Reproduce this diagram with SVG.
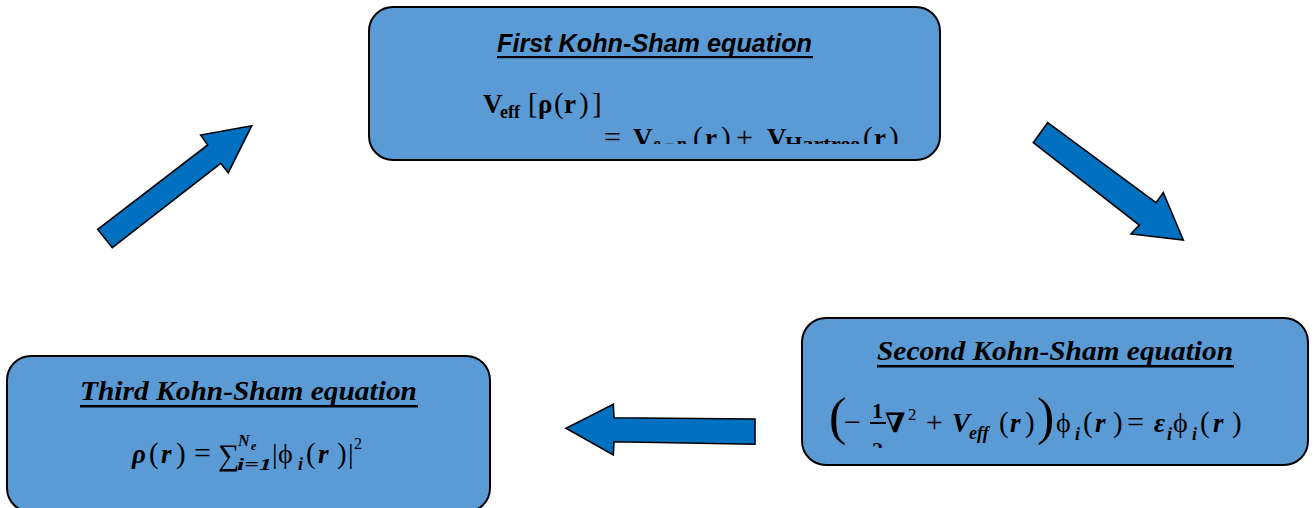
<svg xmlns="http://www.w3.org/2000/svg" width="1314" height="508" viewBox="0 0 1314 508">
<style>
.box{fill:#5B9BD5;stroke:#000;stroke-width:2}
.arrow{fill:#0070C0;stroke:#000;stroke-width:1.6;stroke-linejoin:miter}
.t1{font-family:"Liberation Sans",Arial,sans-serif;font-weight:bold;font-style:italic;font-size:25px;fill:#000}
.t2{font-family:"Liberation Serif","Times New Roman",serif;font-weight:bold;font-style:italic;font-size:27px;fill:#000}
.m{font-family:"Liberation Serif","DejaVu Serif",serif;fill:#000}
.b{font-weight:bold}
.bi{font-weight:bold;font-style:italic}
</style>
<defs>
<clipPath id="c1"><rect x="370" y="8" width="569" height="136"/></clipPath>
<clipPath id="c2"><rect x="803" y="319" width="504" height="129"/></clipPath>
</defs>
<rect width="1314" height="508" fill="#fff"/>
<g id="connectors">
<polygon class="arrow" points="97.7,229.3 207.7,145 200.7,135 251.7,125.7 228.3,172.7 220.7,163.3 112.3,247.7"/>
<polygon class="arrow" points="1047.7,122.7 1156,202.7 1163.3,192.7 1183.3,240 1131,234 1139.3,225 1033.3,142.7"/>
<polygon class="arrow" points="755,419 614,417.7 613.3,404.3 566,428.3 613.3,455 614,441.7 755,444.3"/>
</g>
<g id="node-first">
<rect class="box" x="369" y="7" width="571" height="153" rx="24"/>
<text class="t1" x="497" y="52" textLength="315" lengthAdjust="spacingAndGlyphs">First Kohn-Sham equation</text>
<rect x="497" y="56" width="316" height="2.2" fill="#000"/>
<g clip-path="url(#c1)" font-size="27">
<text class="m b" x="483" y="113">V</text>
<text class="m b" x="500" y="118" font-size="18">eff</text>
<text class="m" x="528" y="113" font-size="29">[</text>
<text class="m b" x="538" y="113">ρ</text>
<text class="m" x="554" y="113" font-size="29">(</text>
<text class="m b" x="564" y="113">r</text>
<text class="m" x="579" y="113" font-size="29">)</text>
<text class="m" x="592" y="113" font-size="29">]</text>
<text class="m" x="604" y="147" font-size="30">=</text>
<text class="m b" x="633" y="147">V</text>
<text class="m b" x="653" y="150" font-size="18">e</text>
<text class="m b" x="664" y="150" font-size="18">−</text>
<text class="m b" x="677" y="150" font-size="18">n</text>
<text class="m" x="693" y="147" font-size="29">(</text>
<text class="m b" x="705" y="147">r</text>
<text class="m" x="721" y="147" font-size="29">)</text>
<text class="m" x="736" y="147" font-size="30">+</text>
<text class="m b" x="767" y="147">V</text>
<text class="m b" x="785" y="150" font-size="18" textLength="75" lengthAdjust="spacingAndGlyphs">Hartree</text>
<text class="m" x="863" y="147" font-size="29">(</text>
<text class="m b" x="874" y="147">r</text>
<text class="m" x="889" y="147" font-size="29">)</text>
</g>
</g>
<g id="node-second">
<rect class="box" x="802" y="318" width="506" height="147" rx="24"/>
<text class="t2" x="877" y="360" textLength="356" lengthAdjust="spacingAndGlyphs">Second Kohn-Sham equation</text>
<rect x="877" y="365" width="357" height="2.5" fill="#000"/>
<g clip-path="url(#c2)" font-size="27">
<text class="m" x="829" y="434" font-size="52">(</text>
<text class="m" x="844" y="432" font-size="30">−</text>
<text class="m b" x="872" y="418" font-size="22">1</text>
<rect x="870" y="422" width="16" height="2" fill="#000"/>
<text class="m b" x="872" y="457" font-size="22">2</text>
<text class="m b" x="885" y="432">∇</text>
<text class="m" x="908" y="420" font-size="17">2</text>
<text class="m" x="926" y="432" font-size="30">+</text>
<text class="m bi" x="952" y="432">V</text>
<text class="m bi" x="969" y="439" font-size="18">eff</text>
<text class="m" x="999" y="432" font-size="29">(</text>
<text class="m bi" x="1010" y="432">r</text>
<text class="m" x="1025" y="432" font-size="29">)</text>
<text class="m" x="1037" y="434" font-size="52">)</text>
<text class="m" x="1056" y="432" font-size="28">ϕ</text>
<text class="m bi" x="1075" y="440" font-size="18">i</text>
<text class="m" x="1083" y="432" font-size="29">(</text>
<text class="m bi" x="1095" y="432">r</text>
<text class="m" x="1113" y="432" font-size="29">)</text>
<text class="m" x="1127" y="432" font-size="30">=</text>
<text class="m bi" x="1154" y="432">ε</text>
<text class="m bi" x="1167" y="440" font-size="18">i</text>
<text class="m" x="1173" y="432" font-size="28">ϕ</text>
<text class="m bi" x="1192" y="440" font-size="18">i</text>
<text class="m" x="1200" y="432" font-size="29">(</text>
<text class="m bi" x="1213" y="432">r</text>
<text class="m" x="1232" y="432" font-size="29">)</text>
</g>
</g>
<g id="node-third" font-size="27">
<rect class="box" x="7" y="356" width="483" height="156" rx="24"/>
<text class="t2" x="80" y="400" textLength="337" lengthAdjust="spacingAndGlyphs">Third Kohn-Sham equation</text>
<rect x="80" y="405" width="338" height="2.5" fill="#000"/>
<text class="m bi" x="132" y="463">ρ</text>
<text class="m" x="149" y="463" font-size="29">(</text>
<text class="m bi" x="161" y="463">r</text>
<text class="m" x="176" y="463" font-size="29">)</text>
<text class="m" x="194" y="463" font-size="30">=</text>
<text class="m" x="218" y="465" font-size="30">∑</text>
<text class="m bi" x="238" y="446" font-size="16">N</text>
<text class="m bi" x="251" y="450" font-size="12">e</text>
<text class="m bi" x="237" y="470" font-size="16" textLength="35" lengthAdjust="spacingAndGlyphs">i=1</text>
<text class="m" x="272" y="463" font-size="28">|</text>
<text class="m" x="278" y="463" font-size="28">ϕ</text>
<text class="m bi" x="298" y="470" font-size="18">i</text>
<text class="m" x="306" y="463" font-size="29">(</text>
<text class="m bi" x="318" y="463">r</text>
<text class="m" x="337" y="463" font-size="29">)</text>
<text class="m" x="348" y="463" font-size="28">|</text>
<text class="m" x="354" y="449" font-size="16">2</text>
</g>
</svg>
